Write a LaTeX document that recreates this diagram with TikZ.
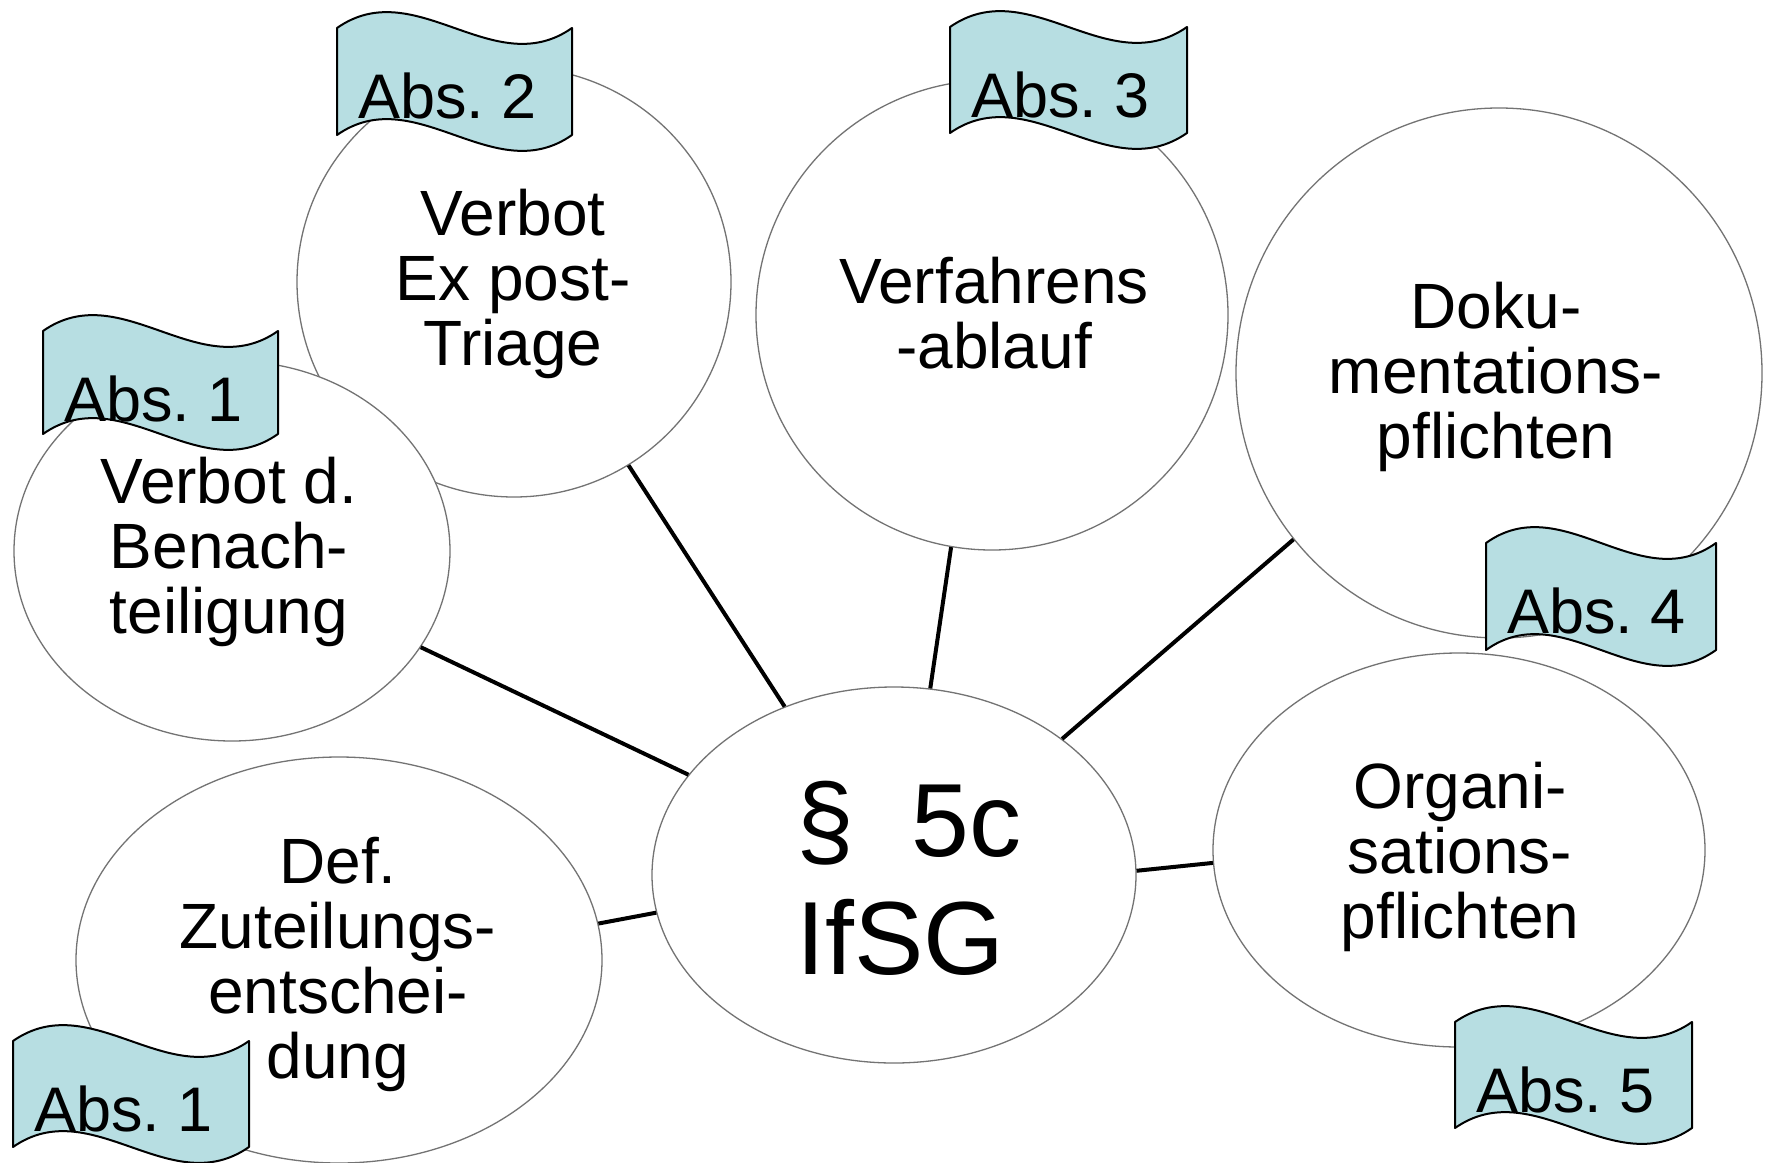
\documentclass[tikz,border=0pt]{standalone}
\usepackage{fontspec}
\setmainfont{Liberation Sans}
\usetikzlibrary{shapes.geometric}
\frenchspacing
\definecolor{flagfill}{RGB}{183,222,226}
\definecolor{rimgray}{RGB}{115,115,115}
\newcommand\bodystrut{\rule[-15pt]{0pt}{65pt}}
\newcommand\bigstrut{\rule[-39pt]{0pt}{118pt}}
\newcommand\drawflag[6]{%
  \draw[flagstyle] (#2,#4) .. controls ({#2+(#3-#2)/3},{#4-55}) and ({#2+2*(#3-#2)/3},{#4+55}) .. (#3,#4)
    -- (#3,#5) .. controls ({#2+2*(#3-#2)/3},{#5+55}) and ({#2+(#3-#2)/3},{#5-55}) .. (#2,#5) -- cycle;
  \node[flagtext] (#1) at ({#2+21},{#4+90}) {#6};
}
\tikzset{
  ell/.style={ellipse, draw=rimgray, line width=1.3pt, fill=white, inner sep=0pt},
  txt/.style={font=\fontsize{64}{65}\selectfont, align=center, inner sep=0pt, anchor=north},
  bigtxt/.style={font=\fontsize{104}{118}\selectfont, align=left, inner sep=0pt, anchor=north west},
  flagtext/.style={font=\fontsize{63}{70}\selectfont, anchor=base west, inner sep=0pt},
  flagstyle/.style={draw=black, line width=2pt, fill=flagfill, line join=round},
  conn/.style={line width=4pt, draw=black}
}
\begin{document}
\begin{tikzpicture}[x=1pt, y=-1pt]
\useasboundingbox (0,0) rectangle (1771,1162);
\fill[white] (0,0) rectangle (1771,1162);
% ellipses
\node[ell, minimum width=434pt, minimum height=430pt] (ep) at (514,282) {};
\node[ell, minimum width=472pt, minimum height=470pt] (vf) at (992,315) {};
\node[ell, minimum width=526pt, minimum height=530pt] (dk) at (1499,373) {};
\node[ell, minimum width=492pt, minimum height=394pt] (og) at (1459,850) {};
\node[ell, minimum width=436pt, minimum height=380pt] (bn) at (232,551) {};
\node[ell, minimum width=526pt, minimum height=406pt] (df) at (339,960) {};
\node[ell, minimum width=484pt, minimum height=376pt] (cn) at (894,875) {};
% texts
\node[txt] (tep) at (513,185) {\bodystrut Verbot\\\bodystrut Ex post-\\\bodystrut Triage};
\node[txt] (tvf) at (994,253) {\bodystrut Verfahrens\\\bodystrut -ablauf};
\node[txt] (tdk) at (1496,278) {\bodystrut Doku-\\\bodystrut mentations-\\\bodystrut pflichten};
\node[txt] (tbn) at (229,453) {\bodystrut Verbot d.\\\bodystrut Benach-\\\bodystrut teiligung};
\node[txt] (tdf) at (338,833) {\bodystrut Def.\\\bodystrut Zuteilungs-\\\bodystrut entschei-\\\bodystrut dung};
\node[txt] (tog) at (1460,758) {\bodystrut Organi-\\\bodystrut sations-\\\bodystrut pflichten};
\node[bigtxt] (tcn) at (796,777) {\bigstrut§\ \ 5c\\\bigstrut IfSG};
% connectors
\draw[conn] (ep.302) -- (cn.123.1);
\draw[conn] (vf.260.7) -- (cn.79.9);
\draw[conn] (dk.219.9) -- (cn.39.2);
\draw[conn] (bn.333) -- (cn.154.6);
\draw[conn] (df.8) -- (cn.189.3);
\draw[conn] (cn.1.4) -- (og.183.5);
% flags
\drawflag{f2}{337}{572}{28}{135}{Abs. 2}
\drawflag{f3}{950}{1187}{27}{133}{Abs. 3}
\drawflag{f1a}{43}{278}{331}{434}{Abs. 1}
\drawflag{f4}{1486}{1716}{543}{650}{Abs. 4}
\drawflag{f5}{1455}{1692}{1022}{1128}{Abs. 5}
\drawflag{f1b}{13}{249}{1041}{1147}{Abs. 1}
\end{tikzpicture}
\end{document}
